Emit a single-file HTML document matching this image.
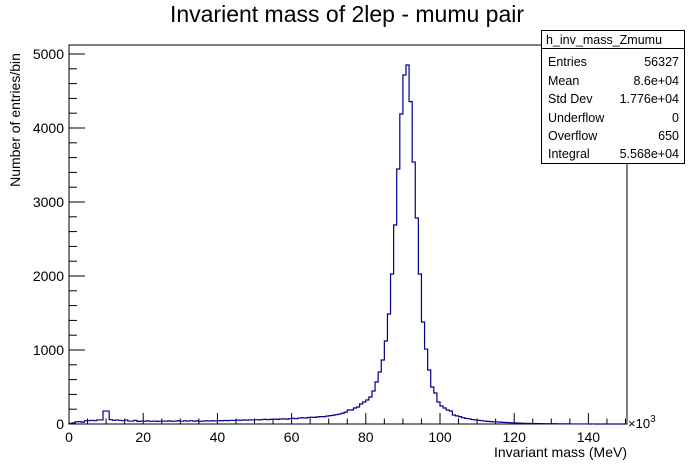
<!DOCTYPE html>
<html><head><meta charset="utf-8"><style>
body{margin:0;background:#fff;}
svg{display:block;font-family:"Liberation Sans",sans-serif;}
</style></head><body>
<svg id="c" width="696" height="472">
<text x="347" y="22" font-size="23" text-anchor="middle">Invarient mass of 2lep - mumu pair</text>
<rect x="69" y="45" width="558" height="379" fill="none" stroke="#000" stroke-width="1"/>
<g id="ticks"></g>
<path id="hist" fill="none" stroke="#00008b" stroke-width="1.2"/>
<text x="20" y="120" font-size="14" text-anchor="middle" transform="rotate(-90 20 120)">Number of entries/bin</text>
<text x="627" y="457" font-size="14" text-anchor="end">Invariant mass (MeV)</text>
<text x="628" y="428" font-size="13">×10<tspan font-size="10" dy="-6">3</tspan></text>
<g>
<rect x="541.5" y="30.5" width="143" height="133" fill="#fff" stroke="#000"/>
<line x1="541.5" y1="48.5" x2="684.5" y2="48.5" stroke="#000"/>
<text x="546" y="44" font-size="12.5">h_inv_mass_Zmumu</text>
<g font-size="12.5">
<text x="548" y="66">Entries</text><text x="679" y="66" text-anchor="end">56327</text>
<text x="548" y="85">Mean</text><text x="679" y="85" text-anchor="end">8.6e+04</text>
<text x="548" y="103">Std Dev</text><text x="679" y="103" text-anchor="end">1.776e+04</text>
<text x="548" y="122">Underflow</text><text x="679" y="122" text-anchor="end">0</text>
<text x="548" y="140">Overflow</text><text x="679" y="140" text-anchor="end">650</text>
<text x="548" y="158">Integral</text><text x="679" y="158" text-anchor="end">5.568e+04</text>
</g></g>
</svg>
<script>
const binWidth = 150/180;
const counts = [
8,15,30,30,25,45,45,50,45,55,55,175,175,60,50,55,50,45,55,40,
40,50,35,40,38,42,36,40,35,38,40,38,42,36,40,44,38,42,40,45,
38,42,36,40,42,40,44,42,46,44,48,46,50,48,52,50,54,52,56,55,
58,56,60,62,58,64,66,62,68,70,66,72,76,72,80,84,80,88,92,90,
96,100,98,106,112,118,126,134,145,160,
189,189,216,230,270,297,324,365,446,568,703,865,1122,1486,2027,2689,3446,4189,4716,4851,
4356,3540,2784,2027,1378,1013,730,500,419,297,243,216,189,176,122,
110,100,85,75,70,60,55,50,45,40,35,32,30,28,25,22,20,18,16,14,
12,10,9,8,7,6,5,5,4,4,3,3,3,2,2,2,2,1,1,1,
1,1,1,0,1,0,0,0,0,0,0,0,0,0,0
];
const xTicks = [0,20,40,60,80,100,120,140];
const yTicks = [0,1000,2000,3000,4000,5000];
const X = v => 69 + v*(556.5/150);
const Y = v => 424 - v*0.074;
let d = `M${X(0)},${Y(0)}`;
counts.forEach((c,i)=>{ if(i*binWidth>=150) return; d += `L${X(i*binWidth)},${Y(c)}L${X((i+1)*binWidth)},${Y(c)}`; });
d += `L${X(Math.min(counts.length*binWidth,150))},${Y(0)}`;
document.getElementById('hist').setAttribute('d', d);
const g = document.getElementById('ticks');
const ns = 'http://www.w3.org/2000/svg';
function ln(x1,y1,x2,y2){const l=document.createElementNS(ns,'line');l.setAttribute('x1',x1);l.setAttribute('y1',y1);l.setAttribute('x2',x2);l.setAttribute('y2',y2);l.setAttribute('stroke','#000');g.appendChild(l);return l;}
function tx(x,y,s,a){const t=document.createElementNS(ns,'text');t.setAttribute('x',x);t.setAttribute('y',y);t.setAttribute('font-size','14');t.setAttribute('text-anchor',a);t.textContent=s;g.appendChild(t);return t;}
for(let v=0; v<=150; v+=5){ const l=ln(X(v),424,X(v),424-(v%20===0?11:5.5));

 }
xTicks.forEach(v=>{ const t=tx(X(v),442,String(v),'middle');

 });
for(let v=0; v<=5100; v+=200){ const l=ln(69,Y(v),69+(v%1000===0?16:8),Y(v));

 }
yTicks.forEach(v=>{ const t=tx(64,Y(v)+5,String(v),'end');

 });
</script>
</body></html>
